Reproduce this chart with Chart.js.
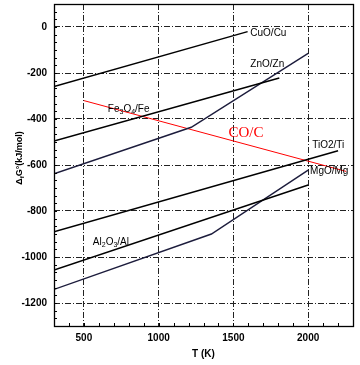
<!DOCTYPE html>
<html>
<head>
<meta charset="utf-8">
<script src="https://cdn.jsdelivr.net/npm/chart.js@4"></script>
<style>
html, body { margin: 0; padding: 0; background: #fff; }
#wrap { width: 360px; height: 365px; }
</style>
</head>
<body>
<div id="wrap"><canvas id="chart"></canvas></div>
<script>
// 温度 T (K) 与 ΔfG° (kJ/mol)
const cuoT = [300, 1595];
const cuoG = [-259, -20];
const feT = [300, 1807];
const feG = [-496, -222];
const znoT = [300, 1218, 2000];
const znoG = [-638, -436, -115];
const coT = [500, 2255];
const coG = [-320, -628];
const tio2T = [300, 2200];
const tio2G = [-890, -538];
const al2o3T = [300, 2000];
const al2o3G = [-1057, -687];
const mgoT = [300, 1353, 2000];
const mgoG = [-1141, -900, -622];

// 坐标轴刻度
const xTicks = [500, 1000, 1500, 2000];
const yTicks = [-1200, -1000, -800, -600, -400, -200, 0];

// 曲线标注 (文字, 位置)
const labelText = ['CuO/Cu', 'ZnO/Zn', 'Fe_3O_4/Fe', 'TiO2/Ti', 'MgO/Mg', 'Al_2O_3/Al'];
const labelT = [1613, 1613, 660, 2027, 2013, 560];
const labelG = [-26, -161, -357, -513, -626, -935];
const coLabel = 'CO/C';
const coLabelT = 1467;
const coLabelG = -461;

function pts(T, G) {
    return T.map((t, i) => ({ x: t, y: G[i] }));
}

function line(data, color, width) {
    return {
        data: data,
        showLine: true,
        borderColor: color,
        borderWidth: width,
        pointRadius: 0,
        fill: false
    };
}

// 带下标的文字
function richParts(text) {
    const parts = [];
    const re = /_(\w)/g;
    let last = 0, m;
    while ((m = re.exec(text)) !== null) {
        if (m.index > last) parts.push({ t: text.slice(last, m.index), sub: false });
        parts.push({ t: m[1], sub: true });
        last = re.lastIndex;
    }
    if (last < text.length) parts.push({ t: text.slice(last), sub: false });
    return parts;
}

function drawRich(ctx, text, x, y, size, weight, align) {
    const parts = richParts(text);
    const fam = '"Liberation Sans", Arial, sans-serif';
    const subSize = Math.round(size * 0.7);
    let w = 0;
    parts.forEach(p => {
        ctx.font = weight + ' ' + (p.sub ? subSize : size) + 'px ' + fam;
        p.w = ctx.measureText(p.t).width;
        w += p.w;
    });
    let cx = align === 'center' ? x - w / 2 : x;
    ctx.textAlign = 'left';
    ctx.textBaseline = 'middle';
    parts.forEach(p => {
        ctx.font = weight + ' ' + (p.sub ? subSize : size) + 'px ' + fam;
        ctx.fillText(p.t, cx, p.sub ? y + size * 0.3 : y);
        cx += p.w;
    });
}

// 次刻度、边框、标注
const decorPlugin = {
    id: 'decor',
    afterDatasetsDraw(chart) {
        const ctx = chart.ctx;
        const a = chart.chartArea;
        const xs = chart.scales.x, ys = chart.scales.y;
        ctx.save();
        ctx.strokeStyle = '#000';
        ctx.lineWidth = 1;
        ctx.beginPath();
        for (let v = 400; v <= 2200; v += 100) {
            const px = Math.round(xs.getPixelForValue(v)) + 0.5;
            ctx.moveTo(px, a.bottom);
            ctx.lineTo(px, a.bottom - 3);
        }
        for (let k = 1; k < 42; k++) {
            const v = -1300 + 100 / 3 * k;
            const py = Math.round(ys.getPixelForValue(v)) + 0.5;
            ctx.moveTo(a.left, py);
            ctx.lineTo(a.left + 3, py);
        }
        ctx.stroke();
        ctx.lineWidth = 1.3;
        ctx.strokeRect(Math.round(a.left) + 0.5, Math.round(a.top) + 0.5,
            Math.round(a.right - a.left), Math.round(a.bottom - a.top));

        ctx.fillStyle = '#000';
        labelText.forEach((t, i) => {
            drawRich(ctx, t, xs.getPixelForValue(labelT[i]), ys.getPixelForValue(labelG[i]), 10, 'normal', 'left');
        });
        ctx.fillStyle = '#ff0000';
        ctx.font = '15px "Liberation Serif", "Times New Roman", serif';
        ctx.textAlign = 'left';
        ctx.textBaseline = 'middle';
        ctx.fillText(coLabel, xs.getPixelForValue(coLabelT), ys.getPixelForValue(coLabelG));

        // 纵轴标题
        ctx.fillStyle = '#000';
        ctx.translate(20, (a.top + a.bottom) / 2 - 7);
        ctx.rotate(-Math.PI / 2);
        drawRich(ctx, 'Δ_fG°(kJ/mol)', 0, 0, 9, 'bold', 'center');
        ctx.restore();
    }
};

const tickFont = { family: '"Liberation Sans", Arial, sans-serif', size: 10, weight: 'bold' };

new Chart(document.getElementById('chart'), {
    type: 'scatter',
    data: {
        datasets: [
            line(pts(cuoT, cuoG), '#000', 1.5),
            line(pts(feT, feG), '#000', 1.5),
            line(pts(znoT, znoG), '#1c1c3c', 1.4),
            line(pts(tio2T, tio2G), '#000', 1.5),
            line(pts(al2o3T, al2o3G), '#000', 1.5),
            line(pts(mgoT, mgoG), '#1c1c3c', 1.4),
            line(pts(coT, coG), '#ff0000', 1)
        ]
    },
    options: {
        responsive: true,
        maintainAspectRatio: false,
        animation: false,
        layout: { padding: { top: 4, right: 7, left: 0, bottom: 0 } },
        plugins: {
            legend: { display: false },
            tooltip: { enabled: false }
        },
        scales: {
            x: {
                type: 'linear',
                min: 300,
                max: 2300,
                afterBuildTicks: s => { s.ticks = xTicks.map(v => ({ value: v })); },
                afterFit: s => { s.height = 39; s.paddingLeft = 0; s.paddingRight = 0; },
                grid: { color: '#222', lineWidth: 1, drawTicks: false },
                border: { display: false, dash: [6, 2, 1, 2] },
                ticks: { color: '#000', font: tickFont, padding: 6, maxRotation: 0, callback: v => String(v) },
                title: {
                    display: true,
                    text: 'T (K)',
                    color: '#000',
                    font: tickFont,
                    padding: { top: 0, bottom: 5 }
                }
            },
            y: {
                type: 'linear',
                min: -1300,
                max: 100,
                afterBuildTicks: s => { s.ticks = yTicks.map(v => ({ value: v })); },
                afterFit: s => { s.width = 54; s.paddingTop = 0; s.paddingBottom = 0; },
                grid: { color: '#222', lineWidth: 1, drawTicks: false },
                border: { display: false, dash: [6, 2, 1, 2] },
                ticks: { color: '#000', font: tickFont, padding: 7, callback: v => String(v) }
            }
        }
    },
    plugins: [decorPlugin]
});
</script>
</body>
</html>
